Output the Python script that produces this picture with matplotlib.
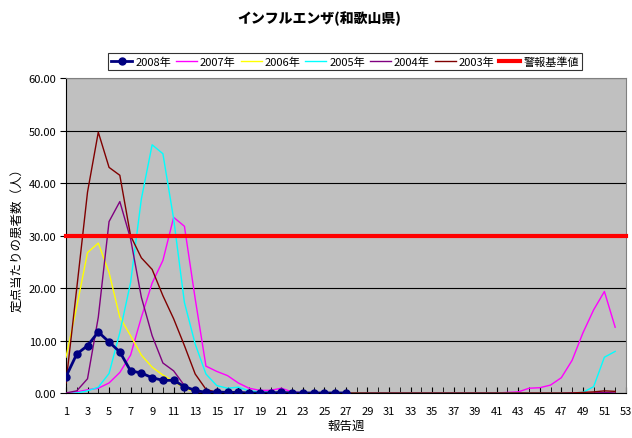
import matplotlib
matplotlib.use('Agg')
import matplotlib.pyplot as plt
import numpy as np

plt.rcParams['font.family'] = ['Noto Sans CJK JP', 'DejaVu Sans']

weeks = np.arange(1, 53)
weeks_all = np.arange(1, 54)

# 定点当たり患者数（週ごと）
y2008 = [3.2, 7.5, 9.1, 11.7, 9.8, 7.9, 4.3, 3.9, 3.0, 2.5, 2.5, 1.3, 0.6, 0.2, 0.3,
         0.2, 0.2, 0.1, 0.1, 0.1, 0.2, 0.1, 0.1, 0.1, 0.1, 0.1, 0.1]
y2007 = [0.0, 0.3, 0.7, 1.0, 2.0, 4.0, 7.3, 14.5, 21.0, 25.3, 33.5, 31.8, 18.0, 5.2, 4.2,
         3.4, 2.0, 1.0, 0.6, 0.6, 1.0, 0.3, 0.1, 0.1, 0.1, 0.1, 0.1, 0.1, 0.1, 0.1,
         0.1, 0.1, 0.1, 0.1, 0.1, 0.1, 0.1, 0.1, 0.1, 0.1, 0.1, 0.2, 0.3, 1.0, 1.1,
         1.6, 3.0, 6.3, 11.5, 15.9, 19.4, 12.6]
y2006 = [6.9, 16.5, 26.8, 28.6, 23.0, 14.5, 11.0, 7.3, 5.0, 3.5, 2.3, 1.0, 0.3, 0.2, 0.1,
         0.1, 0.1, 0.1, 0.1, 0.1, 0.1, 0.1, 0.1, 0.1, 0.1, 0.1, 0.1, 0.1, 0.0, 0.0,
         0.0, 0.0, 0.0, 0.0, 0.0, 0.0, 0.0, 0.0, 0.0, 0.0, 0.0, 0.0, 0.0, 0.0, 0.0,
         0.0, 0.0, 0.0, 0.0, 0.0, 0.0, 0.0]
y2005 = [0.0, 0.1, 0.5, 1.2, 3.8, 11.6, 21.1, 37.0, 47.3, 45.6, 33.2, 17.3, 9.4, 3.7, 1.5,
         1.0, 1.2, 0.5, 0.3, 0.2, 0.2, 0.1, 0.1, 0.1, 0.1, 0.1, 0.1, 0.1, 0.1, 0.1,
         0.1, 0.1, 0.1, 0.1, 0.1, 0.1, 0.1, 0.1, 0.1, 0.1, 0.1, 0.1, 0.1, 0.1, 0.1,
         0.1, 0.1, 0.1, 0.2, 1.3, 6.9, 8.0]
y2004 = [0.1, 0.5, 2.8, 14.5, 32.7, 36.5, 29.4, 18.3, 11.0, 5.8, 4.3, 1.5, 0.3, 0.1, 0.1,
         0.1, 0.1, 0.1, 0.1, 0.0, 0.0, 0.0, 0.0, 0.0, 0.0, 0.0, 0.0, 0.0, 0.0, 0.0,
         0.0, 0.0, 0.0, 0.0, 0.0, 0.0, 0.0, 0.0, 0.0, 0.0, 0.0, 0.0, 0.0, 0.0, 0.0,
         0.0, 0.0, 0.1, 0.1, 0.1, 0.2, 0.1]
y2003 = [2.0, 20.0, 38.3, 49.7, 43.0, 41.5, 30.0, 25.8, 23.6, 18.6, 14.2, 9.1, 3.7, 0.8, 0.2,
         0.1, 0.1, 0.1, 0.1, 0.1, 0.1, 0.1, 0.1, 0.1, 0.1, 0.1, 0.1, 0.1, 0.1, 0.1,
         0.1, 0.1, 0.1, 0.1, 0.1, 0.1, 0.1, 0.1, 0.1, 0.1, 0.1, 0.1, 0.1, 0.1, 0.1,
         0.1, 0.1, 0.1, 0.2, 0.3, 0.5, 0.4]
threshold = 30.0

fig = plt.figure(figsize=(6.32, 4.39), dpi=100)
ax = fig.add_axes([0.1044, 0.1014, 0.886, 0.7186])
ax.set_facecolor('#C0C0C0')

ax.plot(weeks, y2007, color='#FF00FF', lw=1.0, label='2007年', zorder=3)
ax.plot(weeks, y2006, color='#FFFF00', lw=1.0, label='2006年', zorder=3)
ax.plot(weeks, y2005, color='#00FFFF', lw=1.0, label='2005年', zorder=3)
ax.plot(weeks, y2004, color='#800080', lw=1.0, label='2004年', zorder=3)
ax.plot(weeks, y2003, color='#800000', lw=1.0, label='2003年', zorder=3)
ax.plot(weeks[:len(y2008)], y2008, color='#000080', lw=2.0, marker='o', ms=5,
        label='2008年', zorder=5)
ax.plot(weeks_all, [threshold] * len(weeks_all), color='#FF0000', lw=3.0,
        label='警報基準値', zorder=6, clip_on=False)

ax.set_xlim(1, 53)
ax.set_ylim(0, 60)
ax.set_yticks(np.arange(0, 61, 10))
ax.set_yticklabels(['%.2f' % v for v in np.arange(0, 61, 10)], fontsize=8)
ax.set_xticks(np.arange(1, 54, 2))
ax.set_xticks(np.arange(1, 54, 1), minor=True)
ax.tick_params(axis='x', which='both', direction='in', length=4, labelsize=8, pad=9)
ax.tick_params(axis='y', direction='out', length=4, pad=3)
ax.grid(axis='y', color='black', lw=0.8, zorder=1)
ax.set_axisbelow(True)

for side in ['top', 'right']:
    ax.spines[side].set_color('#808080')
for side in ['left', 'bottom']:
    ax.spines[side].set_color('black')

ax.set_xlabel('報告週', fontsize=9, labelpad=2)
ax.set_ylabel('定点当たりの患者数（人）', fontsize=9, labelpad=4)

fig.text(0.505, 0.957, 'インフルエンザ(和歌山県)', ha='center', va='center',
         fontsize=10, fontweight='heavy', style='italic')

handles, labels = ax.get_legend_handles_labels()
order = [5, 0, 1, 2, 3, 4, 6]
leg = fig.legend([handles[i] for i in order], [labels[i] for i in order],
                 loc='center', bbox_to_anchor=(0.546, 0.858), ncol=7, fontsize=8,
                 frameon=True, fancybox=False, edgecolor='black', handlelength=1.9,
                 handletextpad=0.25, columnspacing=0.45, borderpad=0.3)
leg.get_frame().set_linewidth(0.8)

fig.savefig('out.png', dpi=100)
